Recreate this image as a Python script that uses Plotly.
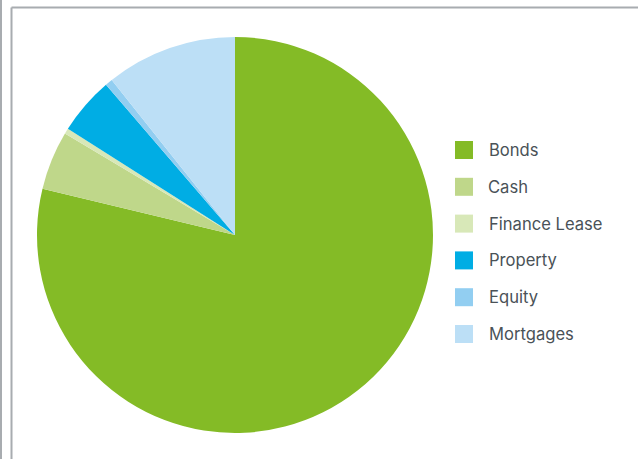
import plotly.graph_objects as go

# Portfolio allocation (%), clockwise from 12 o'clock
categories = ["Bonds", "Cash", "Finance Lease", "Property", "Equity", "Mortgages"]
shares = [78.8, 4.8, 0.45, 4.7, 0.6, 10.7]
colors = ["#84BB26", "#BFD78A", "#D8E8B8", "#00ADE4", "#92CEF1", "#BCDFF6"]

W, H = 638, 459
cx, cy, r = 235, 235, 198

fig = go.Figure(
    go.Pie(
        labels=categories,
        values=shares,
        marker=dict(colors=colors, line=dict(width=0)),
        sort=False,
        direction="clockwise",
        rotation=0,
        textinfo="none",
        hoverinfo="label+percent",
        showlegend=False,
        domain=dict(x=[(cx - r) / W, (cx + r) / W], y=[1 - (cy + r) / H, 1 - (cy - r) / H]),
    )
)

shapes = []
annotations = []

# outer frame lines
frame = "#A8ACB0"
shapes.append(dict(type="line", xref="paper", yref="paper", x0=1 / W, x1=1 / W, y0=0, y1=1,
                   line=dict(color=frame, width=2)))
shapes.append(dict(type="line", xref="paper", yref="paper", x0=11.5 / W, x1=11.5 / W, y0=0,
                   y1=1 - 7.5 / H, line=dict(color=frame, width=2)))
shapes.append(dict(type="line", xref="paper", yref="paper", x0=11.5 / W, x1=1, y0=1 - 7.5 / H,
                   y1=1 - 7.5 / H, line=dict(color=frame, width=2)))

# legend: colour swatch + label per category
row0, step, sw = 150, 36.8, 18
sx0, tx = 455, 486.5
for i, (name, col) in enumerate(zip(categories, colors)):
    yc = row0 + i * step
    shapes.append(dict(type="rect", xref="paper", yref="paper",
                       x0=sx0 / W, x1=(sx0 + sw) / W,
                       y0=1 - (yc + sw / 2) / H, y1=1 - (yc - sw / 2) / H,
                       fillcolor=col, line=dict(width=0)))
    annotations.append(dict(xref="paper", yref="paper", x=tx / W, y=1 - yc / H,
                            xanchor="left", yanchor="middle", showarrow=False, text=name,
                            font=dict(family="Inter", size=16.6, color="#4A5257")))

fig.update_layout(
    width=W,
    height=H,
    margin=dict(l=0, r=0, t=0, b=0),
    paper_bgcolor="white",
    plot_bgcolor="white",
    shapes=shapes,
    annotations=annotations,
)

fig.write_html("out.html")
